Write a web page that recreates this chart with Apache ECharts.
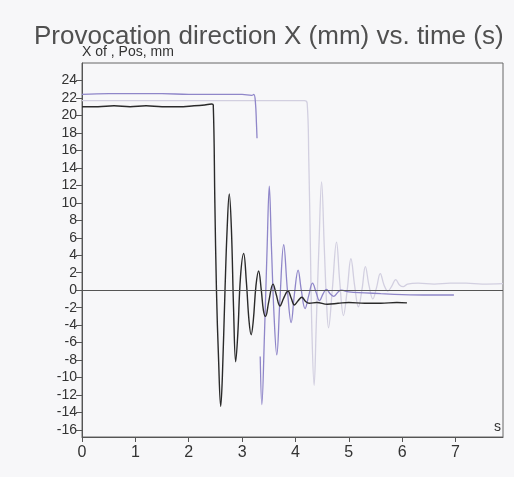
<!DOCTYPE html>
<html><head><meta charset="utf-8">
<script src="https://cdn.jsdelivr.net/npm/echarts@6/dist/echarts.min.js"></script>
<style>html,body{margin:0;padding:0;background:#f7f7f9;}#c{width:514px;height:477px;}</style>
</head><body><div id="c"></div>
<script>
const titleText = "Provocation direction X (mm) vs. time (s)";
const yAxisTitle = "X of , Pos, mm";
const xUnit = "s";
const xTicks = [0,1,2,3,4,5,6,7];
const yTicks = [-16,-14,-12,-10,-8,-6,-4,-2,0,2,4,6,8,10,12,14,16,18,20,22,24];

const blackSeries = [[0,21.0],[0.3,21.0],[0.6,21.1],[0.9,21.0],[1.2,21.1],[1.5,21.0],[1.8,21.0],[2.1,21.1],[2.3,21.2],[2.43,21.3],[2.46,21.2],[2.49,10],[2.52,0],[2.56,-8],[2.6,-13.3],[2.63,-10],[2.68,0],[2.72,7],[2.76,11.0],[2.8,7],[2.84,-2],[2.88,-8.2],[2.92,-5],[2.97,1.5],[3.03,4.2],[3.08,1],[3.13,-3.5],[3.17,-5.1],[3.21,-3.5],[3.26,0.5],[3.31,2.2],[3.36,0],[3.4,-2.3],[3.44,-3.0],[3.5,-1.3],[3.58,0.7],[3.64,-0.5],[3.71,-1.8],[3.78,-0.9],[3.86,-0.1],[3.92,-0.9],[3.98,-1.7],[4.05,-1.2],[4.12,-0.8],[4.19,-1.3],[4.26,-1.5],[4.4,-1.4],[4.6,-1.6],[4.8,-1.5],[5.0,-1.4],[5.3,-1.5],[5.6,-1.5],[5.9,-1.4],[6.09,-1.45]];

const purpleSeries = [[0,22.4],[0.5,22.5],[1.0,22.5],[1.5,22.5],[2.0,22.4],[2.5,22.4],[3.0,22.4],[3.18,22.3],[3.22,22.4],[3.25,21.5],[3.27,19],[3.28,17.4],null,[3.34,-7.6],[3.37,-13.1],[3.42,-5],[3.47,5],[3.51,11.9],[3.55,5],[3.6,-3],[3.65,-7.4],[3.71,-1],[3.78,5.2],[3.85,0],[3.92,-3.7],[3.98,-0.5],[4.05,2.3],[4.11,0],[4.18,-2.1],[4.25,-0.6],[4.32,0.8],[4.39,-0.3],[4.45,-1.2],[4.52,-0.4],[4.58,0.1],[4.65,-0.4],[4.72,-0.7],[4.8,-0.2],[4.86,0.0],[5.0,-0.2],[5.3,-0.3],[5.6,-0.4],[6.0,-0.5],[6.5,-0.55],[6.97,-0.55]];

const lightSeries = [[0,21.7],[1,21.7],[2,21.7],[3,21.7],[4,21.7],[4.17,21.7],[4.22,21.4],[4.25,15],[4.28,5],[4.31,-5],[4.35,-10.9],[4.39,-4],[4.44,5],[4.49,12.4],[4.54,5],[4.58,-1],[4.62,-4.3],[4.69,0],[4.77,5.5],[4.83,1],[4.9,-2.9],[4.97,0],[5.04,3.6],[5.11,0.5],[5.18,-1.9],[5.25,0.2],[5.31,2.7],[5.38,0.5],[5.45,-1.0],[5.52,0.3],[5.59,1.9],[5.66,0.6],[5.73,-0.1],[5.8,0.4],[5.88,1.2],[5.95,0.6],[6.02,0.4],[6.1,0.7],[6.3,0.8],[6.6,0.7],[6.9,0.8],[7.2,0.8],[7.5,0.7],[7.89,0.75]];

const chart = echarts.init(document.getElementById('c'), null, {renderer:'canvas'});
const font = 'Liberation Sans, Arial, sans-serif';
chart.setOption({
  backgroundColor: '#f7f7f9',
  animation: false,
  title: {text: titleText, left: 29, top: 19, textStyle: {fontFamily: font, fontSize: 26, fontWeight: 'normal', color: '#505050'}},
  graphic: [
    {type:'text', left: 82, top: 45, style:{text: yAxisTitle, font: '14px ' + font, fill:'#333'}},
    {type:'text', left: 494, top: 420, style:{text: xUnit, font: '14px ' + font, fill:'#333'}}
  ],
  grid: {left: 82, right: 11, top: 63, bottom: 40, show: true, borderColor: '#666', borderWidth: 1, backgroundColor: 'transparent'},
  xAxis: {type:'value', min: 0, max: 7.89, splitLine:{show:false},
    axisLine:{show:true, onZero:false, lineStyle:{color:'#555'}},
    axisTick:{show:true, length:5, customValues: xTicks, lineStyle:{color:'#555'}},
    axisLabel:{customValues: xTicks, fontFamily: font, fontSize: 16, color:'#333', margin: 8}},
  yAxis: {type:'value', min: -16.8, max: 26, splitLine:{show:false},
    axisLine:{show:true, lineStyle:{color:'#555'}},
    axisTick:{show:true, length:6, customValues: yTicks, lineStyle:{color:'#555'}},
    axisLabel:{customValues: yTicks, fontFamily: font, fontSize: 14, color:'#333', margin: 5}},
  series: [
    {type:'line', data: lightSeries, showSymbol:false, smooth:0.4, lineStyle:{color:'#d2cfe0', width:1.3}, connectNulls:false},
    {type:'line', data: purpleSeries, showSymbol:false, smooth:0.4, lineStyle:{color:'#8f86c9', width:1.3}, connectNulls:false,
      markLine:{silent:true, symbol:'none', label:{show:false}, lineStyle:{color:'#555', width:1, type:'solid'}, data:[{yAxis:0}]}},
    {type:'line', data: blackSeries, showSymbol:false, smooth:0.4, lineStyle:{color:'#2a2a2a', width:1.4}}
  ]
});
</script></body></html>
